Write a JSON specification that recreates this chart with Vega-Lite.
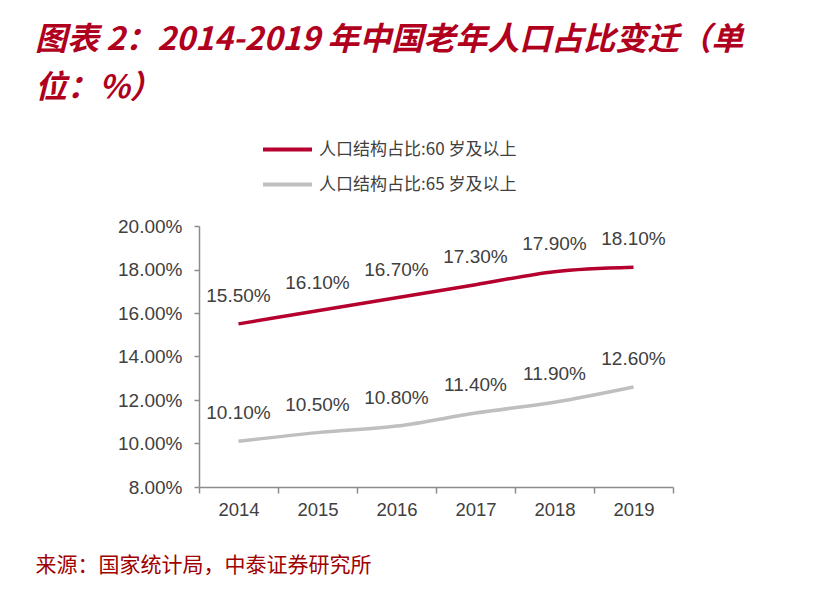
{
  "$schema": "https://vega.github.io/schema/vega-lite/v6.json",
  "autosize": {"type": "none"},
  "width": 474,
  "height": 261,
  "padding": {"left": 199, "top": 226, "right": 152, "bottom": 102},
  "background": "white",
  "title": {
    "text": ["图表 2：2014-2019 年中国老年人口占比变迁（单", "位：%）"],
    "anchor": "start",
    "frame": "group",
    "orient": "top",
    "dx": -164,
    "offset": 18,
    "font": "Noto Sans CJK SC",
    "fontSize": 32,
    "fontWeight": "bold",
    "fontStyle": "italic",
    "color": "#B0001E",
    "lineHeight": 48
  },
  "data": {
    "values": [
      {"year": "2014", "series": "人口结构占比:60岁及以上", "value": 0.155},
      {"year": "2015", "series": "人口结构占比:60岁及以上", "value": 0.161},
      {"year": "2016", "series": "人口结构占比:60岁及以上", "value": 0.167},
      {"year": "2017", "series": "人口结构占比:60岁及以上", "value": 0.173},
      {"year": "2018", "series": "人口结构占比:60岁及以上", "value": 0.179},
      {"year": "2019", "series": "人口结构占比:60岁及以上", "value": 0.181},
      {"year": "2014", "series": "人口结构占比:65岁及以上", "value": 0.101},
      {"year": "2015", "series": "人口结构占比:65岁及以上", "value": 0.105},
      {"year": "2016", "series": "人口结构占比:65岁及以上", "value": 0.108},
      {"year": "2017", "series": "人口结构占比:65岁及以上", "value": 0.114},
      {"year": "2018", "series": "人口结构占比:65岁及以上", "value": 0.119},
      {"year": "2019", "series": "人口结构占比:65岁及以上", "value": 0.126}
    ]
  },
  "encoding": {
    "x": {
      "field": "year",
      "type": "ordinal",
      "scale": {"paddingInner": 0, "paddingOuter": 0},
      "axis": {
        "title": "来源：国家统计局，中泰证券研究所",
        "titleFont": "Noto Sans CJK SC",
        "titleFontSize": 21,
        "titleFontWeight": "normal",
        "titleColor": "#A00000",
        "titleAnchor": "start",
        "titleAlign": "left",
        "titleBaseline": "middle",
        "titleX": -164,
        "titleY": 78,
        "labelAngle": 0,
        "labelFont": "Liberation Sans",
        "labelFontSize": 18.5,
        "labelColor": "#404040",
        "labelPadding": 7,
        "domainColor": "#8c8c8c",
        "domainWidth": 1.5,
        "tickColor": "#8c8c8c",
        "tickWidth": 1.5,
        "tickSize": 6,
        "tickBand": "extent",
        "grid": false
      }
    },
    "y": {
      "field": "value",
      "type": "quantitative",
      "scale": {"domain": [0.08, 0.2], "nice": false, "zero": false},
      "axis": {
        "title": null,
        "values": [0.08, 0.1, 0.12, 0.14, 0.16, 0.18, 0.2],
        "format": ".2%",
        "labelFont": "Liberation Sans",
        "labelFontSize": 19,
        "labelColor": "#404040",
        "labelPadding": 12,
        "domainColor": "#8c8c8c",
        "domainWidth": 1.5,
        "tickColor": "#8c8c8c",
        "tickWidth": 1.5,
        "tickSize": 5,
        "grid": false
      }
    },
    "color": {
      "field": "series",
      "type": "nominal",
      "scale": {
        "domain": ["人口结构占比:60岁及以上", "人口结构占比:65岁及以上"],
        "range": ["#B5002F", "#BFBFBF"]
      },
      "legend": {
        "title": null,
        "orient": "none",
        "legendX": 62,
        "legendY": -103,
        "direction": "vertical",
        "symbolType": "stroke",
        "symbolSize": 2400,
        "symbolStrokeWidth": 4,
        "labelFont": "Noto Sans CJK SC",
        "labelFontSize": 17,
        "labelColor": "#404040",
        "labelOffset": 5,
        "labelLimit": 400,
        "rowPadding": -14,
        "labelExpr": "replace(datum.label, '岁', ' 岁')"
      }
    }
  },
  "layer": [
    {
      "mark": {"type": "line", "strokeWidth": 3.5, "interpolate": "monotone"}
    },
    {
      "mark": {
        "type": "text",
        "dy": -28,
        "font": "Liberation Sans",
        "fontSize": 19,
        "fill": "#404040",
        "baseline": "middle"
      },
      "encoding": {
        "text": {"field": "value", "type": "quantitative", "format": ".2%"},
        "color": {"value": "#404040"}
      }
    }
  ],
  "config": {"view": {"stroke": null}}
}
